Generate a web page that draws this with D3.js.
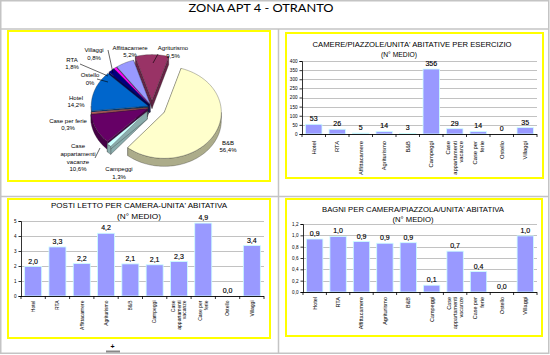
<!DOCTYPE html>
<html><head><meta charset="utf-8">
<script src="https://cdn.jsdelivr.net/npm/d3@7"></script>
<style>body{margin:0;background:#fff}svg{display:block}text{font-family:"Liberation Sans",Arial,sans-serif;fill:#000}</style>
</head><body>
<svg id="c" width="550" height="355"></svg>
<script>
// ---------- DATA ----------
const pageTitle = "ZONA APT 4 - OTRANTO";
const pieCats = ["Affittacamere","Agriturismo","B&B","Campeggi","Case appartamenti vacanze","Case per ferie","Hotel","Ostello","RTA","Villaggi"];
const piePct  = [5.2, 9.5, 56.4, 1.3, 10.6, 0.3, 14.2, 0, 1.8, 0.8];
const pieLabels = ["5,2%","9,5%","56,4%","1,3%","10,6%","0,3%","14,2%","0%","1,8%","0,8%"];
const pieColors = ["#9999FF","#993366","#FFFFCC","#CCFFFF","#660066","#FF8080","#0066CC","#CCCCFF","#000080","#FF00FF"];

const barCats = ["Hotel","RTA","Affittacamere","Agriturismo","B&B","Campeggi","Case appartamenti vacanze","Case per ferie","Ostello","Villaggi"];
const camereValues = [53, 26, 5, 14, 3, 356, 29, 14, 0, 35];
const camereTicks = [0,50,100,150,200,250,300,350,400];
const postiValues = [1.96, 3.27, 2.16, 4.18, 2.14, 2.08, 2.3, 4.86, 0.0, 3.36];
const postiTicks = [0,1,2,3,4,5];
const bagniValues = [0.935, 0.98, 0.89, 0.86, 0.87, 0.12, 0.72, 0.36, 0.0, 0.99];
const bagniTicks = [0,0.2,0.4,0.6,0.8,1.0,1.2];

const svg = d3.select("#c");
const G = "#c4c4c4";

// ---------- page frame ----------
svg.append("rect").attr("x",0.75).attr("y",0.75).attr("width",548).attr("height",352.5).attr("fill","none").attr("stroke",G).attr("stroke-width",1.5);
[[1,29,549,29],[1,196.5,549,196.5],[278.5,29,278.5,353]].forEach(l=>{
  svg.append("line").attr("x1",l[0]).attr("y1",l[1]).attr("x2",l[2]).attr("y2",l[3]).attr("stroke",G).attr("stroke-width",1.5);
});
svg.append("text").attr("x",261).attr("y",11.5).attr("text-anchor","middle")
  .style("font-family","Lato, sans-serif").style("font-size","11px")
  .attr("textLength",145).attr("lengthAdjust","spacingAndGlyphs").text(pageTitle);
svg.append("rect").attr("x",106).attr("y",350.5).attr("width",14).attr("height",2).attr("fill","#888");
svg.append("text").attr("x",112.5).attr("y",349).attr("text-anchor","middle").style("font-size","7px").style("font-weight","bold").text("+");

// yellow boxes
[[8,31,262,150],[286,33,257,145],[8,199,262,139],[286,199,256,137]].forEach(b=>{
  svg.append("rect").attr("x",b[0]).attr("y",b[1]).attr("width",b[2]).attr("height",b[3])
    .attr("fill","#fff").attr("stroke","#FFFF00").attr("stroke-width",2);
});

// ---------- PIE (pseudo 3D) ----------
(function(){
  const cx=152, cy=107, rx=57, ry=46, depth=8;
  const explode = [4,8,14,7,5,4,4,4,4,4];
  const total = d3.sum(piePct);
  const startDeg = -(piePct[0]/total*360 + piePct[1]/total*360/2);
  const ang = d3.scaleLinear().domain([0,total]).range([startDeg,startDeg+360]);
  let acc=0;
  const slices = piePct.map((v,i)=>{const a0=ang(acc); acc+=v; const a1=ang(acc); return {i,v,a0,a1,mid:(a0+a1)/2};});
  const rad = Math.PI/180;
  slices.forEach(s=>{ const e=explode[s.i]; s.ox = e*Math.sin(s.mid*rad); s.oy = -e*Math.cos(s.mid*rad)*0.8; });
  const P=(s,a,dy)=>[cx+s.ox+rx*Math.sin(a*rad), cy+s.oy-ry*Math.cos(a*rad)+(dy||0)];
  const C=(s,dy)=>[cx+s.ox, cy+s.oy+(dy||0)];
  const arcPts=(s,a0,a1,dy)=>{const n=Math.max(2,Math.ceil((a1-a0)/2)); return d3.range(n+1).map(k=>P(s,a0+(a1-a0)*k/n,dy));};
  const line = d3.line();
  const gP = svg.append("g");
  const vis = slices.filter(s=>s.v>0);
  const order = vis.slice().sort((a,b)=>(Math.cos(b.mid*rad))-(Math.cos(a.mid*rad)));
  order.forEach(s=>{
    const col = d3.color(pieColors[s.i]).darker(1.1).formatHex();
    [s.a0,s.a1].forEach(a=>{
      const pts=[C(s),P(s,a),P(s,a,depth),C(s,depth)];
      gP.append("path").attr("d",line(pts)+"Z").attr("fill",col).attr("stroke","#222").attr("stroke-width",0.3);
    });
    const ranges=[[90,270],[450,630],[-270,-90]];
    ranges.forEach(r=>{
      const lo=Math.max(s.a0,r[0]), hi=Math.min(s.a1,r[1]);
      if(hi>lo){
        const top=arcPts(s,lo,hi,0), bot=arcPts(s,lo,hi,depth).reverse();
        gP.append("path").attr("d",line(top.concat(bot))+"Z").attr("fill",col).attr("stroke","#222").attr("stroke-width",0.3);
      }
    });
  });
  vis.forEach(s=>{
    const pts=[C(s)].concat(arcPts(s,s.a0,s.a1,0));
    gP.append("path").attr("d",line(pts)+"Z").attr("fill",pieColors[s.i]).attr("stroke","#222").attr("stroke-width",0.3);
  });
  const labPos = {
    "Affittacamere":[130,49.5],"Agriturismo":[173,50],"B&B":[228,144.5],"Campeggi":[119,171],
    "Case appartamenti vacanze":[78,148],"Case per ferie":[68,122.5],"Hotel":[76,99.5],
    "Ostello":[90,77],"RTA":[72,61.5],"Villaggi":[94,52]
  };
  const leaders = {"Villaggi":[[108,50],[113,73]],"Agriturismo":[[158,54],[153,63]],"RTA":[[80,64],[108,76]],
    "Ostello":[[97,79],[108,82]],"Case appartamenti vacanze":[[95,158],[100,148]]};
  const gl = svg.append("g");
  pieCats.forEach((c,i)=>{
    const p=labPos[c];
    const lines = c==="Case appartamenti vacanze" ? ["Case","appartamenti","vacanze"] : [c];
    lines.concat([pieLabels[i]]).forEach((t,k)=>{
      gl.append("text").attr("x",p[0]).attr("y",p[1]+k*7.8).attr("text-anchor","middle").style("font-size","6px").text(t);
    });
    if(leaders[c]) gl.append("path").attr("d",line(leaders[c])).attr("stroke","#000").attr("stroke-width",0.6).attr("fill","none");
  });
})();

// ---------- BAR CHARTS ----------
function fmt1(v){return d3.format(".1f")(v).replace(".",",");}
function barChart(o){
  const g=svg.append("g");
  const x=d3.scaleBand().domain(barCats).range([o.x0,o.x1]).paddingInner(0.3).paddingOuter(0.15);
  const y=d3.scaleLinear().domain([0,o.max]).range([o.y0,o.y1]);
  g.selectAll(".gr").data(o.ticks.slice(1)).enter().append("line")
    .attr("x1",o.x0).attr("x2",o.x1).attr("y1",d=>Math.round(y(d))+0.5).attr("y2",d=>Math.round(y(d))+0.5)
    .attr("stroke","#a8a8a8").attr("stroke-width",0.7);
  g.selectAll(".b").data(o.values).enter().append("rect")
    .attr("x",(d,i)=>x(barCats[i])).attr("width",x.bandwidth())
    .attr("y",d=>y(d)).attr("height",d=>o.y0-y(d))
    .attr("fill","#9999FF").attr("stroke","#CCFFFF").attr("stroke-width",0.8);
  g.selectAll(".v").data(o.values).enter().append("text")
    .attr("x",(d,i)=>x(barCats[i])+x.bandwidth()/2).attr("y",d=>y(d)-3)
    .attr("text-anchor","middle").style("font-size","7px").style("stroke","#000").style("stroke-width","0.15").text(o.vfmt);
  const ya=d3.axisLeft(y).tickValues(o.ticks).tickSize(2.5).tickPadding(2).tickFormat(o.tfmt);
  const yg=g.append("g").attr("transform",`translate(${o.x0},0)`).call(ya);
  yg.select(".domain").attr("stroke","#000").attr("stroke-width",0.8);
  yg.selectAll("line").attr("stroke","#000").attr("stroke-width",0.8);
  yg.selectAll("text").style("font-size","4.6px").style("font-family","Liberation Sans, Arial, sans-serif");
  g.append("line").attr("x1",o.x0).attr("x2",o.x1).attr("y1",o.y0+0.5).attr("y2",o.y0+0.5).attr("stroke","#000").attr("stroke-width",0.9);
  d3.range(barCats.length+1).forEach(k=>{
    const xx=o.x0+(o.x1-o.x0)*k/barCats.length;
    g.append("line").attr("x1",xx).attr("x2",xx).attr("y1",o.y0).attr("y2",o.y0+3).attr("stroke","#000").attr("stroke-width",0.8);
  });
  barCats.forEach(c=>{
    const lines = c==="Case appartamenti vacanze"?["Case","appartamenti","vacanze"]:(c==="Case per ferie"?["Case per","ferie"]:[c]);
    const cxp=x(c)+x.bandwidth()/2;
    const lh=o.xfs*1.15;
    const x0=cxp-(lines.length-1)*lh/2+o.xfs*0.35;
    lines.forEach((t,k)=>{
      g.append("text").attr("transform",`translate(${x0+k*lh},${o.y0+o.xoff}) rotate(-90)`)
        .attr("text-anchor","end").style("font-size",o.xfs+"px").text(t);
    });
  });
  o.title.forEach((t,k)=>{
    const tt=g.append("text").attr("x",o.tx[k]).attr("y",o.ty[k]).attr("text-anchor","middle").style("font-size","7px").text(t);
    if(o.tw[k]) tt.attr("textLength",o.tw[k]).attr("lengthAdjust","spacingAndGlyphs");
  });
}

barChart({x0:302,x1:537,y0:134,y1:61,max:400,ticks:camereTicks,values:camereValues,
  vfmt:d=>d3.format("d")(d),tfmt:d3.format("d"),xfs:5.8,xoff:7,
  title:["CAMERE/PIAZZOLE/UNITA' ABITATIVE PER ESERCIZIO","(N° MEDIO)"],tx:[412,399],ty:[47,57],tw:[199,36]});
barChart({x0:21,x1:264,y0:296,y1:221,max:5,ticks:postiTicks,values:postiValues,
  vfmt:fmt1,tfmt:d3.format("d"),xfs:5,xoff:4.5,
  title:["POSTI LETTO PER CAMERA-UNITA' ABITATIVA","(N° MEDIO)"],tx:[139,139],ty:[208,219],tw:[176,44]});
barChart({x0:303,x1:537,y0:292,y1:224,max:1.2,ticks:bagniTicks,values:bagniValues,
  vfmt:fmt1,tfmt:d=>fmt1(d),xfs:5.5,xoff:5,
  title:["BAGNI PER CAMERA/PIAZZOLA/UNITA' ABITATIVA","(N° MEDIO)"],tx:[413,413],ty:[212,222],tw:[182,41]});
</script>
</body></html>
